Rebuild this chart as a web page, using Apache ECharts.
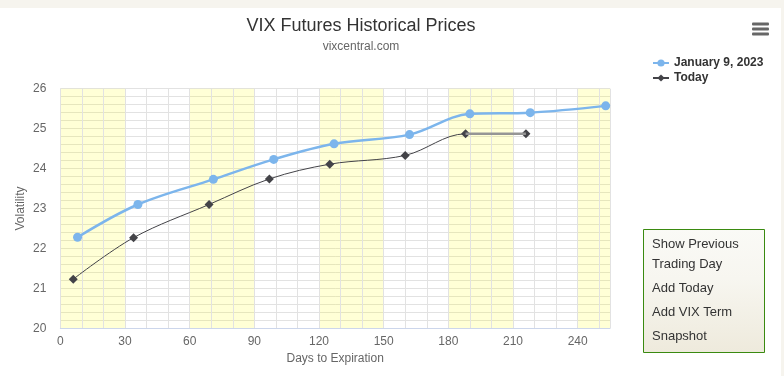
<!DOCTYPE html>
<html>
<head>
<meta charset="utf-8">
<script src="https://cdn.jsdelivr.net/npm/echarts@6/dist/echarts.min.js"></script>
<style>
  html, body { margin: 0; padding: 0; background: #f6f4ee; }
  #vix-chart { position: absolute; left: 0; top: 8px; width: 781px; height: 368px; background: #fff; }
</style>
</head>
<body>
<div id="vix-chart"></div>
<script>
// days to expiration + settle for each contract
const prevDays = [8, 36, 71, 99, 127, 162, 190, 218, 253]
const prevPrices = [22.28, 23.10, 23.73, 24.23, 24.62, 24.85, 25.37, 25.40, 25.57]
const todayDays = [6, 34, 69, 97, 125, 160, 188, 216]
const todayPrices = [21.23, 22.27, 23.10, 23.74, 24.11, 24.33, 24.87, 24.87]
const seriesNames = ['January 9, 2023', 'Today']
const menuItems = ['Show Previous', 'Trading Day', 'Add Today', 'Add VIX Term', 'Snapshot']

const pairs = (xs, ys) => xs.map((d, i) => [d, ys[i]])
const n = todayDays.length
const todayTail = pairs(todayDays.slice(n - 2), todayPrices.slice(n - 2))

const font = '"Liberation Sans", Arial, sans-serif'
const menuY = [236, 256, 280, 304, 328]

const chart = echarts.init(document.getElementById('vix-chart'))
chart.setOption({
  animation: false,
  textStyle: { fontFamily: font },
  grid: { left: 60.3, right: 171, top: 80.7, bottom: 47.7 },
  legend: {
    data: seriesNames,
    orient: 'vertical',
    left: 652,
    top: 49,
    padding: 0,
    itemWidth: 16,
    itemHeight: 9,
    itemGap: 3,
    textStyle: { fontSize: 12, fontWeight: 'bold', color: '#333', fontFamily: font }
  },
  xAxis: {
    type: 'value',
    min: 0,
    max: 255,
    interval: 30,
    name: 'Days to Expiration',
    nameLocation: 'middle',
    nameGap: 22,
    nameTextStyle: { fontSize: 12, color: '#666' },
    axisLine: { lineStyle: { color: '#ccd6eb' } },
    axisTick: { show: false },
    axisLabel: { fontSize: 12, color: '#666', margin: 7, showMaxLabel: false },
    splitLine: { show: true, lineStyle: { color: '#e2e2e2' } },
    minorTick: { show: false, splitNumber: 3 },
    minorSplitLine: { show: true, lineStyle: { color: '#e2e2e2' } },
    splitArea: { show: true, areaStyle: { color: ['rgba(255,255,0,0.16)', 'rgba(255,255,255,0)'] } }
  },
  yAxis: {
    type: 'value',
    min: 20,
    max: 26,
    interval: 1,
    name: 'Volatility',
    nameLocation: 'middle',
    nameGap: 34,
    nameMoveOverlap: false,
    nameTextStyle: { fontSize: 12, color: '#666' },
    axisLine: { show: false },
    axisTick: { show: false },
    axisLabel: { fontSize: 12, color: '#666', margin: 14 },
    splitLine: { lineStyle: { color: '#e2e2e2' } },
    minorTick: { show: false, splitNumber: 5 },
    minorSplitLine: { show: true, lineStyle: { color: '#e2e2e2' } }
  },
  series: [
    {
      name: seriesNames[0],
      type: 'line',
      data: pairs(prevDays, prevPrices),
      smooth: 0.35,
      symbol: 'circle',
      symbolSize: 9,
      showAllSymbol: true,
      color: '#7cb5ec',
      lineStyle: { width: 2.5, color: '#7cb5ec' },
      itemStyle: { color: '#7cb5ec' },
      z: 3
    },
    {
      name: seriesNames[1],
      type: 'line',
      data: pairs(todayDays, todayPrices),
      smooth: 0.35,
      symbol: 'diamond',
      symbolSize: 9,
      color: '#434348',
      lineStyle: { width: 1, color: '#434348' },
      itemStyle: { color: '#434348' },
      z: 4
    },
    {
      name: 'tail',
      type: 'line',
      data: todayTail,
      symbol: 'none',
      silent: true,
      lineStyle: { width: 2.5, color: '#959595' },
      z: 5
    }
  ],
  graphic: [
    {
      type: 'text', x: 361, y: 9,
      style: { text: 'VIX Futures Historical Prices', font: '18px ' + font, fill: '#333', textAlign: 'center' }
    },
    {
      type: 'text', x: 361, y: 33,
      style: { text: 'vixcentral.com', font: '12px ' + font, fill: '#666', textAlign: 'center' }
    },
    { type: 'rect', shape: { x: 752, y: 14.5, width: 17, height: 3, r: 1 }, style: { fill: '#666' } },
    { type: 'rect', shape: { x: 752, y: 19.5, width: 17, height: 3, r: 1 }, style: { fill: '#666' } },
    { type: 'rect', shape: { x: 752, y: 24.5, width: 17, height: 3, r: 1 }, style: { fill: '#666' } },
    {
      type: 'group',
      children: [
        {
          type: 'rect',
          shape: { x: 643.5, y: 221.5, width: 121, height: 123 },
          style: {
            fill: new echarts.graphic.LinearGradient(0, 0, 0, 1, [
              { offset: 0, color: '#fafaf6' },
              { offset: 0.4, color: '#f7f6f0' },
              { offset: 1, color: '#eeeadc' }
            ]),
            stroke: '#3a8a10',
            lineWidth: 1
          }
        }
      ].concat(menuItems.map((t, i) => ({
        type: 'text',
        x: 652,
        y: menuY[i],
        style: { text: t, font: '13px ' + font, fill: '#333', textVerticalAlign: 'middle' }
      })))
    }
  ]
})
</script>
</body>
</html>
